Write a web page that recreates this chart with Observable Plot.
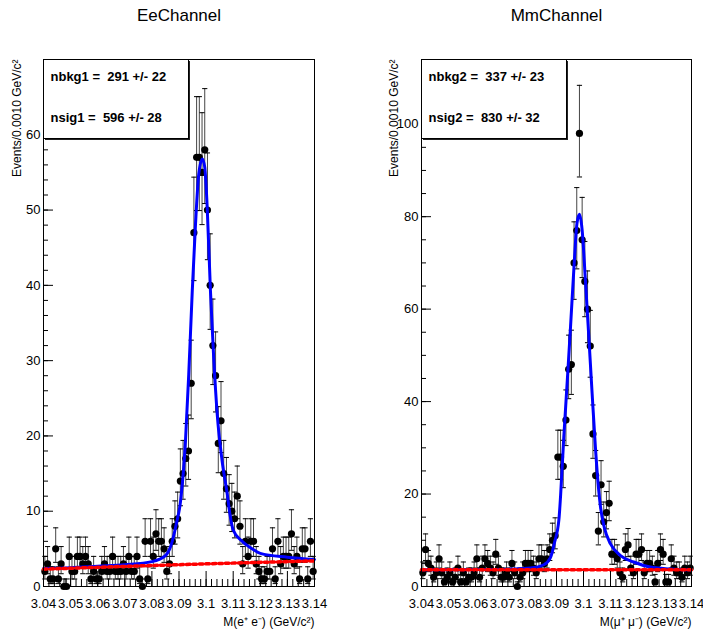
<!DOCTYPE html>
<html><head><meta charset="utf-8">
<script src="https://cdn.jsdelivr.net/npm/d3@7"></script>
<script src="https://cdn.jsdelivr.net/npm/@observablehq/plot@0.6"></script>
<style>
body{margin:0;background:#fff;}
#wrap{display:flex;width:703px;height:631px;font-family:"Liberation Sans Narrow","Liberation Sans",Arial,sans-serif;}
#wrap svg{font-family:"Liberation Sans Narrow","Liberation Sans",Arial,sans-serif;overflow:visible;}
</style></head><body><div id="wrap"></div>
<script>
// ---------- data ----------
const massLow = 3.04, binWidth = 0.001;
const xTicks = [3.04, 3.05, 3.06, 3.07, 3.08, 3.09, 3.10, 3.11, 3.12, 3.13, 3.14];

const eeTitle = "EeChannel";
const eeCounts = [2,3,1,1,5,1,3,0,0,4, 2,2,4,4,3,4,3,1,2,1, 1,2,3,2,2,4,2,2,2,3,
  2,4,2,2,4,1,0,6,1,6, 4,7,6,6,5,2,3,6,8,9, 14,15,17,18,27,47,57,57,55,58,
  50,40,32,28,19,22,15,13,11,10, 9,12,8,3,6,4,6,6,3,2, 1,1,2,2,5,1,6,3,4,4,
  4,7,3,4,1,5,5,1,6,2];
const eeFitMass = [3.04,3.05,3.06,3.07,3.08,3.085,3.087,3.089,3.0906,3.0924,3.0936,3.0949,3.0961,3.0973,3.0986,3.0995,3.1004,3.1016,3.1028,3.1041,3.1059,3.1078,3.1088,3.11,3.113,3.117,3.12,3.13,3.14];
const eeFitValue = [2.4,2.5,2.7,2.9,3.3,4.1,5.4,8.3,11.4,19.4,28.2,39.3,48.2,54.8,56.8,55.7,50.4,39.3,30.4,22.9,16.7,12.3,9.6,7.5,6.1,5.0,4.4,3.9,3.6];
const eeBkgMass = [3.04, 3.09, 3.14];
const eeBkgValue = [2.3, 2.9, 3.4];
const eeYMajor = [0,10,20,30,40,50,60];
const eeLegend = ["nbkg1 =  291 +/- 22", "nsig1 =  596 +/- 28"];
const eeXLabel = "M(e\u207A e\u207B) (GeV/c\u00B2)";

const mmTitle = "MmChannel";
const mmCounts = [3,8,5,4,2,3,6,3,1,2, 3,1,2,4,1,3,1,2,2,3, 6,2,4,6,5,4,3,7,4,2,
  2,3,2,5,3,0,2,3,5,5, 5,4,3,6,6,5,6,8,10,11, 28,28,26,36,47,48,70,77,98,75,
  66,60,52,33,24,12,22,14,16,18, 7,7,6,3,2,8,9,4,3,7, 7,8,3,5,5,4,1,5,8,7,
  1,1,6,4,3,3,2,4,3,4];
const mmFitMass = [3.04,3.0693,3.0804,3.0853,3.0878,3.0893,3.0909,3.0915,3.0927,3.0940,3.0952,3.0964,3.0976,3.0985,3.0995,3.1007,3.1019,3.1032,3.1044,3.1056,3.1063,3.1077,3.11,3.1137,3.1186,3.1247,3.132,3.14];
const mmFitValue = [3.6,3.7,4.0,4.7,6.3,9.6,14.5,19.5,32.3,44.6,56.2,68.4,78.6,80.5,77.1,66.3,54.7,41.7,30.2,21.0,17.2,12.8,9.2,6.7,5.3,4.2,3.8,3.6];
const mmBkgMass = [3.04, 3.14];
const mmBkgValue = [3.6, 3.6];
const mmYMajor = [0,20,40,60,80,100];
const mmLegend = ["nbkg2 =  337 +/- 23", "nsig2 =  830 +/- 32"];
const mmXLabel = "M(\u03BC\u207A \u03BC\u207B) (GeV/c\u00B2)";

const yLabel = "Events/0.0010 GeV/c\u00B2";

// ---------- helpers ----------
const fmt = d => String(+d.toFixed(2));
const capSymbol = {draw(ctx, size) { const r = Math.sqrt(size / Math.PI); ctx.moveTo(-r, 0); ctx.lineTo(r, 0); }};

function panel(cfg) {
  const data = cfg.counts.map((n, i) => ({
    m: massLow + (i + 0.5) * binWidth,
    n,
    lo: n === 0 ? 0 : n - (Math.sqrt(n + 0.25) - 0.5),
    hi: n + Math.sqrt(n + 0.25) + 0.5
  }));
  const fit = cfg.fitMass.map((m, i) => ({m, v: cfg.fitValue[i]}));
  const bkg = cfg.bkgMass.map((m, i) => ({m, v: cfg.bkgValue[i]}));
  const xMinor = d3.range(0, 51).map(k => +(3.04 + k * 0.002).toFixed(3));
  const yMinor = d3.range(0, cfg.yMax + 1e-9, cfg.yMinorStep);
  const boxW = cfg.boxW, boxH = 79;
  const box = (index, scales, values, dims) => {
    const g = d3.create("svg:g");
    const x0 = dims.marginLeft, y0 = dims.marginTop;
    g.append("rect").attr("x", x0 + 2).attr("y", y0 + 2).attr("width", boxW).attr("height", boxH).attr("fill", "#222");
    g.append("rect").attr("x", x0 + 0.5).attr("y", y0 + 0.5).attr("width", boxW).attr("height", boxH)
      .attr("fill", "white").attr("stroke", "black");
    return g.node();
  };
  return Plot.plot({
    width: cfg.width, height: 631,
    marginLeft: cfg.ml, marginRight: cfg.mr, marginTop: 59, marginBottom: 45,
    x: {domain: [3.04, 3.14], axis: null, label: null},
    y: {domain: [0, cfg.yMax], axis: null, label: null},
    style: {fontFamily: '"Liberation Sans Narrow","Liberation Sans",Arial,sans-serif', background: "white", color: "black"},
    marks: [
      // data
      Plot.ruleX(data, {x: "m", y1: "lo", y2: "hi", stroke: "#444", strokeWidth: 1}),
      Plot.dot(data, {x: "m", y: "hi", symbol: capSymbol, r: 2.6, stroke: "black", strokeWidth: 1}),
      Plot.dot(data.filter(d => d.n > 0), {x: "m", y: "lo", symbol: capSymbol, r: 2.6, stroke: "black", strokeWidth: 1}),
      Plot.dot(data, {x: "m", y: "n", r: 3.6, fill: "black", stroke: "none"}),
      // fit curves
      Plot.line(fit, {x: "m", y: "v", stroke: "#0000ff", strokeWidth: 3, curve: "monotone-x"}),
      Plot.line(bkg, {x: "m", y: "v", stroke: "#ff0000", strokeWidth: 3.5, strokeDasharray: "3.5,3", curve: "monotone-x"}),
      // frame + axes
      Plot.frame({stroke: "black"}),
      Plot.axisX({ticks: xMinor, anchor: "bottom", tickSize: -7, fill: "none", label: null}),
      Plot.axisX({ticks: xTicks, anchor: "bottom", tickSize: -15, fill: "none", label: null}),
      Plot.axisX({ticks: xTicks, anchor: "bottom", tickSize: 0, tickPadding: 12, tickFormat: fmt, fontSize: 13, label: null}),
      Plot.axisY({ticks: yMinor, anchor: "left", tickSize: -5, fill: "none", label: null}),
      Plot.axisY({ticks: cfg.yMajor, anchor: "left", tickSize: -10, fill: "none", label: null}),
      Plot.axisY({ticks: cfg.yMajor, anchor: "left", tickSize: 0, tickPadding: 3, fontSize: 13, label: null}),
      // legend box
      box,
      Plot.text([cfg.legend[0]], {frameAnchor: "top-left", dx: 7, dy: 17, lineAnchor: "middle", fontSize: 13, fontWeight: "bold", textAnchor: "start"}),
      Plot.text([cfg.legend[1]], {frameAnchor: "top-left", dx: 7, dy: 58, lineAnchor: "middle", fontSize: 13, fontWeight: "bold", textAnchor: "start"}),
      // labels
      Plot.text([cfg.title], {frameAnchor: "top", dy: -44, lineAnchor: "middle", fontSize: 17, fontFamily: '"Liberation Sans",Arial,sans-serif'}),
      Plot.text([cfg.xLabel], {frameAnchor: "bottom-right", dy: 36, lineAnchor: "middle", textAnchor: "end", fontSize: 12}),
      Plot.text([yLabel], {frameAnchor: "top-left", rotate: -90, lineAnchor: "middle", textAnchor: "end", dx: cfg.ylDx, fontSize: 12})
    ]
  });
}

const wrap = document.getElementById("wrap");
wrap.appendChild(panel({counts: eeCounts, fitMass: eeFitMass, fitValue: eeFitValue, bkgMass: eeBkgMass, bkgValue: eeBkgValue,
  yMax: 70, yMajor: eeYMajor, yMinorStep: 2, legend: eeLegend, title: eeTitle, xLabel: eeXLabel,
  width: 351, ml: 43, mr: 37, boxW: 145, ylDx: -26}));
wrap.appendChild(panel({counts: mmCounts, fitMass: mmFitMass, fitValue: mmFitValue, bkgMass: mmBkgMass, bkgValue: mmBkgValue,
  yMax: 114, yMajor: mmYMajor, yMinorStep: 5, legend: mmLegend, title: mmTitle, xLabel: mmXLabel,
  width: 352, ml: 70, mr: 12, boxW: 145, ylDx: -27}));
</script></body></html>
